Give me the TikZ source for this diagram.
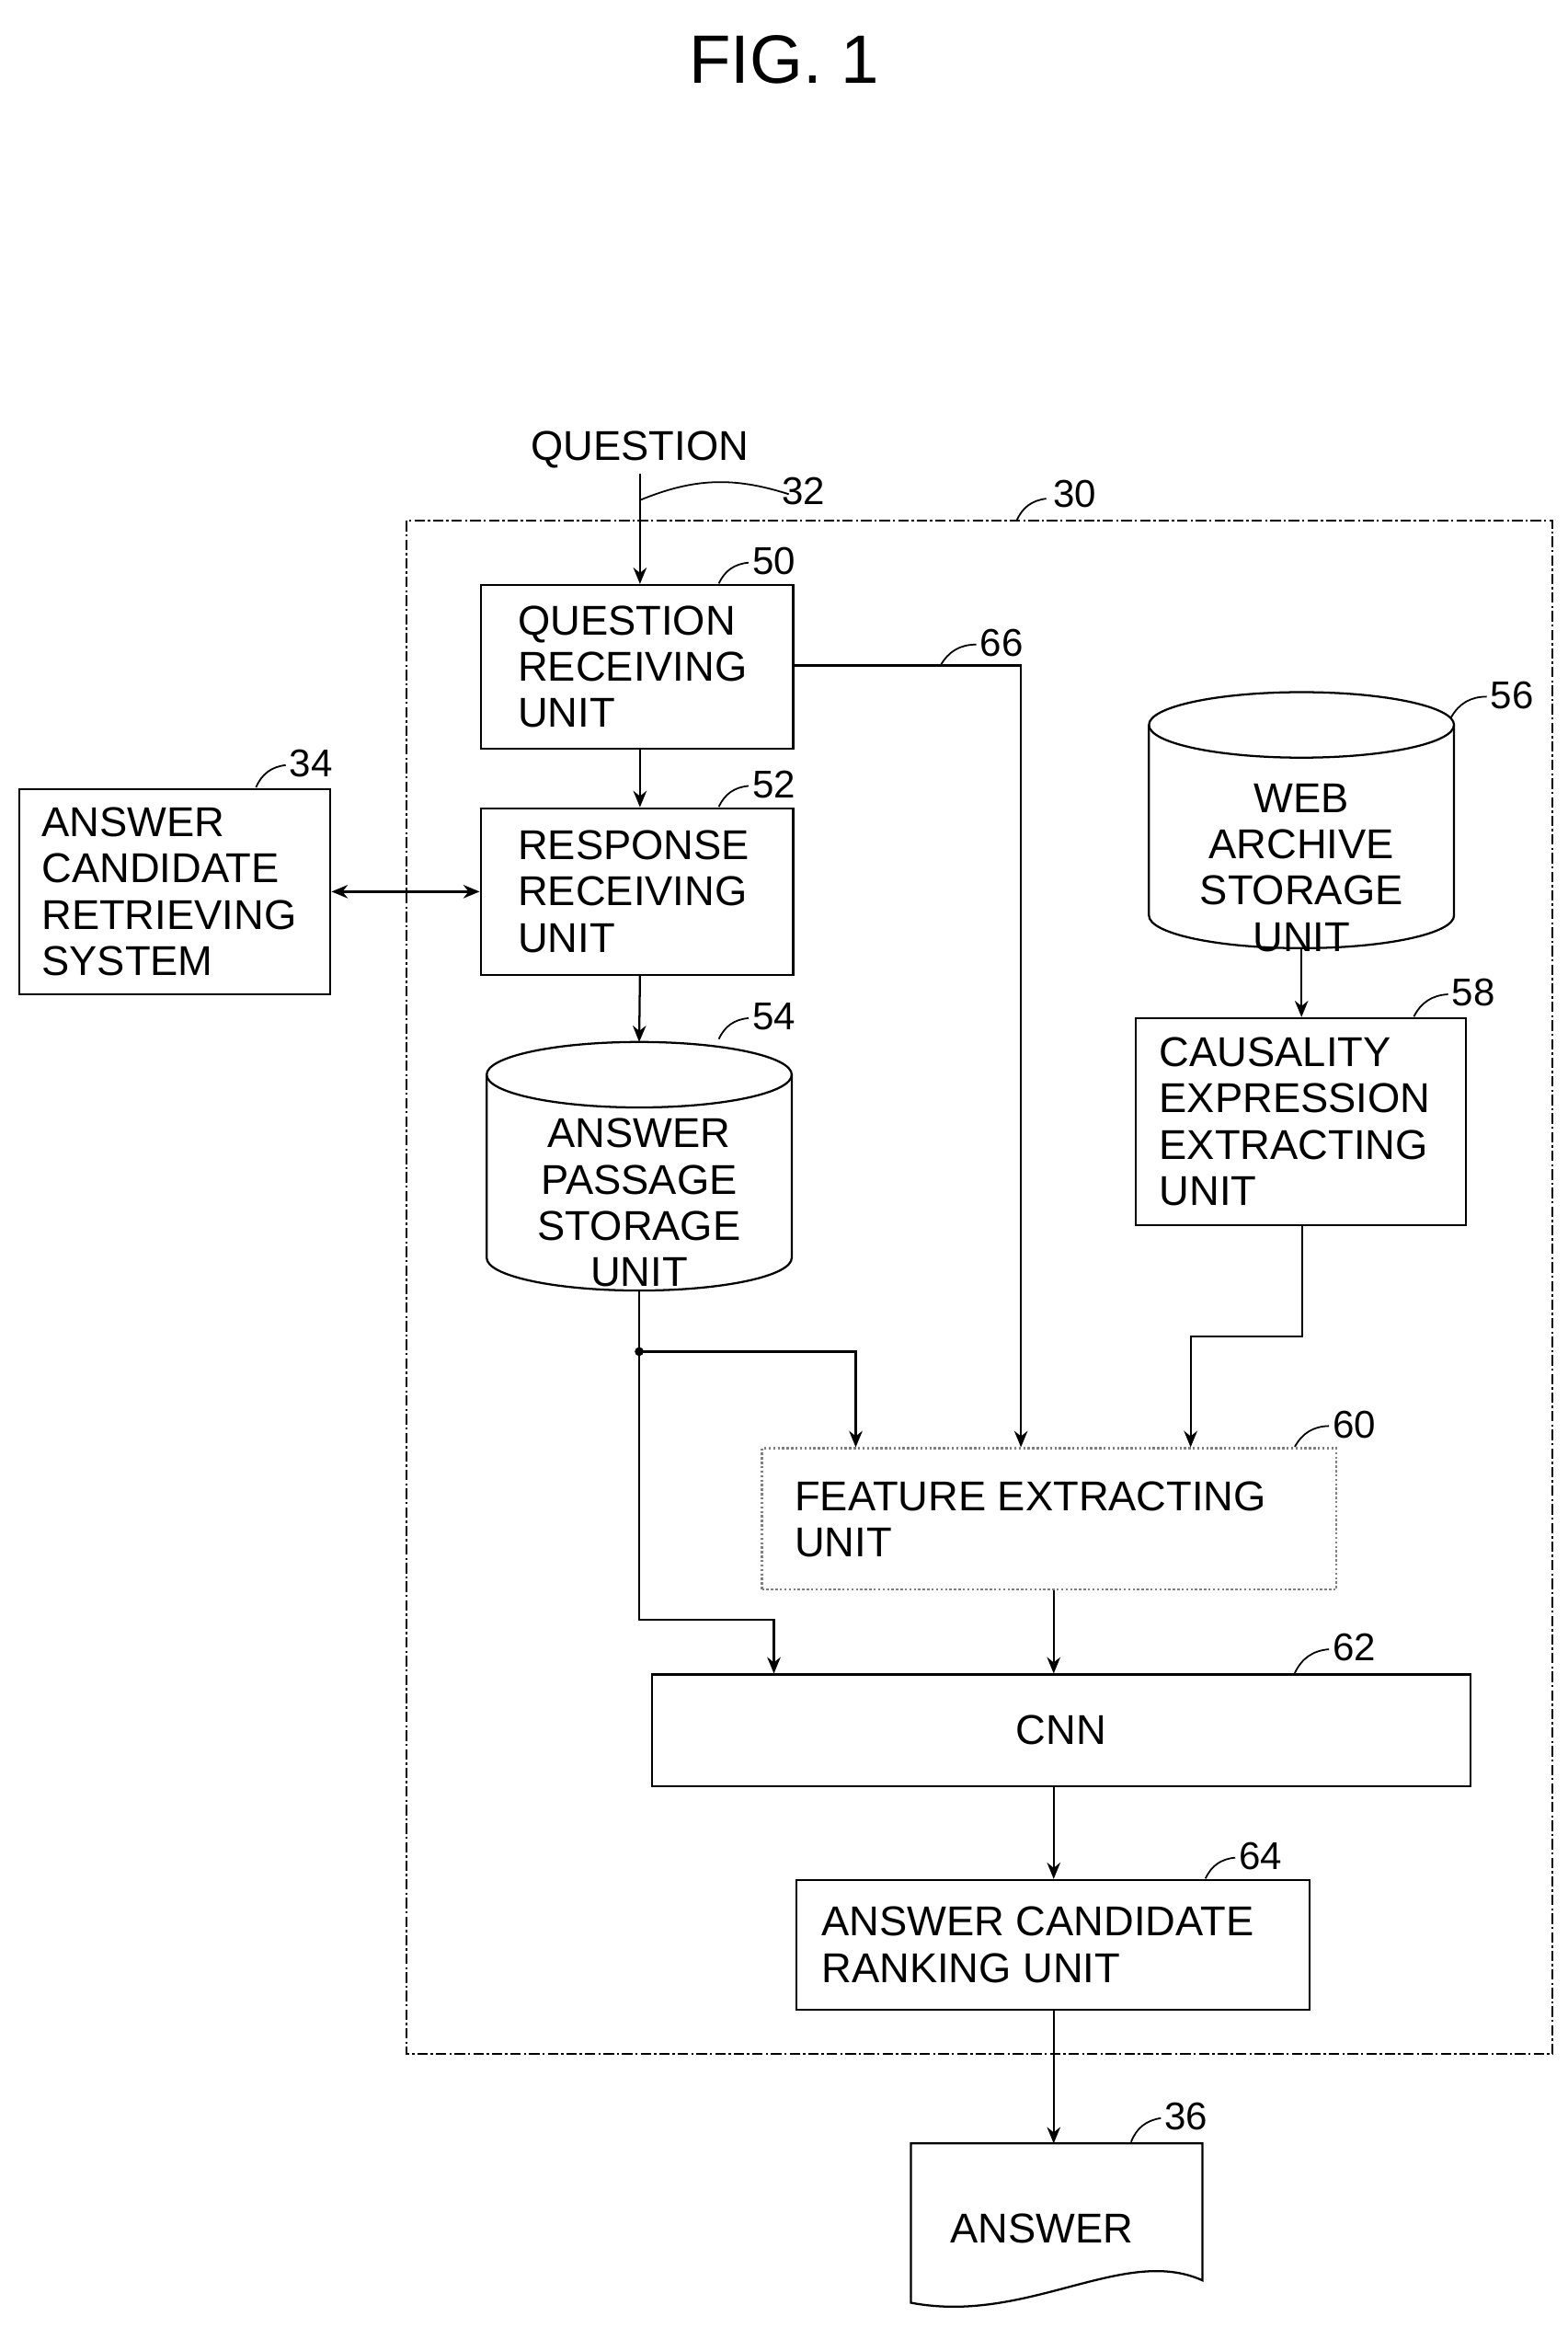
\documentclass[tikz,border=0pt]{standalone}
\usepackage{fontspec}
\setmainfont{Liberation Sans}
\usetikzlibrary{arrows.meta}
\begin{document}
\begin{tikzpicture}[x=1pt,y=-1pt,line width=1.4pt,
  box/.style={draw,inner sep=0pt},
  txt/.style={font=\fontsize{28}{31}\selectfont,align=left},
  ctxt/.style={font=\fontsize{28}{31}\selectfont,align=center},
  lbl/.style={font=\fontsize{26}{28}\selectfont},
  arr/.style={-{Stealth[length=11pt,width=9pt]}},
  lead/.style={line width=1.1pt}]
\useasboundingbox (0,0) rectangle (1053,1564);
\node[font=\fontsize{46}{50}\selectfont] (fig) at (527,40) {FIG. 1};
% system boundary
\draw[line width=1.2pt,dash pattern=on 7pt off 2pt on 1.5pt off 2pt] (273,350) rectangle (1043,1380);
\node[lbl] (l30) at (722,332) {30};
\draw[lead] (703,335) to[bend right=30] (683,350);
% question
\node[txt] (q) at (430,302) {QUESTION};
\node[lbl] (l32) at (540,330) {32};
% boxes
\node[box,minimum width=210pt,minimum height=110pt] (b50) at (428,448) {};
\node[txt,anchor=west] (t50) at (344,448) {QUESTION\\RECEIVING\\UNIT};
\node[box,minimum width=210pt,minimum height=112pt] (b52) at (428,599) {};
\node[txt,anchor=west] (t52) at (344,599) {RESPONSE\\RECEIVING\\UNIT};
\node[box,minimum width=209pt,minimum height=138pt] (b34) at (117.5,599) {};
\node[txt,anchor=west] (t34) at (24,599) {ANSWER\\CANDIDATE\\RETRIEVING\\SYSTEM};
\node[box,minimum width=222pt,minimum height=139pt] (b58) at (874,753.5) {};
\node[txt,anchor=west] (t58) at (775,753.5) {CAUSALITY\\EXPRESSION\\EXTRACTING\\UNIT};
\node[box,draw=gray,dash pattern=on 1.5pt off 1.5pt,minimum width=386pt,minimum height=95pt] (b60) at (705,1020.5) {};
\node[txt,anchor=west] (t60) at (530,1020.5) {FEATURE EXTRACTING\\UNIT};
\node[box,minimum width=550pt,minimum height=75pt] (b62) at (713,1162.5) {};
\node[ctxt] (t62) at (713,1162.5) {CNN};
\node[box,minimum width=345pt,minimum height=87pt] (b64) at (707.5,1306.5) {};
\node[txt,anchor=west] (t64) at (548,1306.5) {ANSWER CANDIDATE\\RANKING UNIT};
% cylinders
\draw (327,722) -- (327,845) arc (180:0:102.5 and 22) -- (532,722);
\draw (429.5,722) ellipse (102.5 and 22);
\node[ctxt] (t54) at (429.5,808) {ANSWER\\PASSAGE\\STORAGE\\UNIT};
\coordinate (c54t) at (429.5,700); \coordinate (c54b) at (429.5,867);
\draw (772,487) -- (772,615) arc (180:0:102.5 and 22) -- (977,487);
\draw (874.5,487) ellipse (102.5 and 22);
\node[ctxt] (t56) at (874.5,583) {WEB\\ARCHIVE\\STORAGE\\UNIT};
\coordinate (c56b) at (874.5,637);
% document
\draw (612,1440) -- (808,1440) -- (808,1532) .. controls (755,1508) and (690,1562) .. (612,1547) -- cycle;
\node[ctxt] (t36) at (700,1497) {ANSWER};
\coordinate (d36) at (708,1440);
% labels
\node[lbl] (l50) at (520,377) {50}; \draw[lead] (503,378) to[bend right=30] (483,392);
\node[lbl] (l52) at (520,527) {52}; \draw[lead] (503,528) to[bend right=30] (483,542);
\node[lbl] (l34) at (209,513) {34}; \draw[lead] (192,514) to[bend right=30] (172,529);
\node[lbl] (l54) at (520,683) {54}; \draw[lead] (503,684) to[bend right=30] (483,698);
\node[lbl] (l56) at (1016,467) {56}; \draw[lead] (999,468) to[bend right=30] (975,482);
\node[lbl] (l58) at (990,667) {58}; \draw[lead] (973,668) to[bend right=30] (950,683);
\node[lbl] (l60) at (910,957) {60}; \draw[lead] (893,958) to[bend right=30] (870,972);
\node[lbl] (l62) at (910,1107) {62}; \draw[lead] (893,1108) to[bend right=30] (870,1124);
\node[lbl] (l64) at (847,1247) {64}; \draw[lead] (830,1248) to[bend right=30] (810,1262);
\node[lbl] (l36) at (797,1422) {36}; \draw[lead] (780,1423) to[bend right=30] (760,1439);
\node[lbl] (l66) at (673,432) {66}; \draw[lead] (656,433) to[bend right=30] (632,447);
% connectors
\coordinate (qs) at (430,318);
\draw[arr] (qs) -- (b50.north -| qs);
\draw[lead] (530,332) to[bend right=20] (430,336);
\draw[arr] (b50.south -| qs) -- (b52.north -| qs);
\draw[arr] (b52.south -| qs) -- (c54t);
\draw[{Stealth[length=11pt,width=9pt]}-{Stealth[length=11pt,width=9pt]}] (b34.east) -- (b52.west);
\coordinate (j) at (429.5,908);
\draw (c54b) -- (j);
\fill (j) circle (3pt);
\draw[arr] (j) -- (575,908) -- (b60.north -| 575,0);
\draw[arr] (j) -- (429.5,1088) -- (520,1088) -- (b62.north -| 520,0);
\draw[arr] (b50.east |- 0,447) -- (686,447) -- (b60.north -| 686,0);
\draw[arr] (c56b) -- (b58.north -| c56b);
\draw[arr] (b58.south -| 875,0) -- (875,898) -- (800,898) -- (b60.north -| 800,0);
\draw[arr] (b60.south -| 708,0) -- (b62.north -| 708,0);
\draw[arr] (b62.south -| 708,0) -- (b64.north -| 708,0);
\draw[arr] (b64.south -| 708,0) -- (d36);
\end{tikzpicture}
\end{document}
